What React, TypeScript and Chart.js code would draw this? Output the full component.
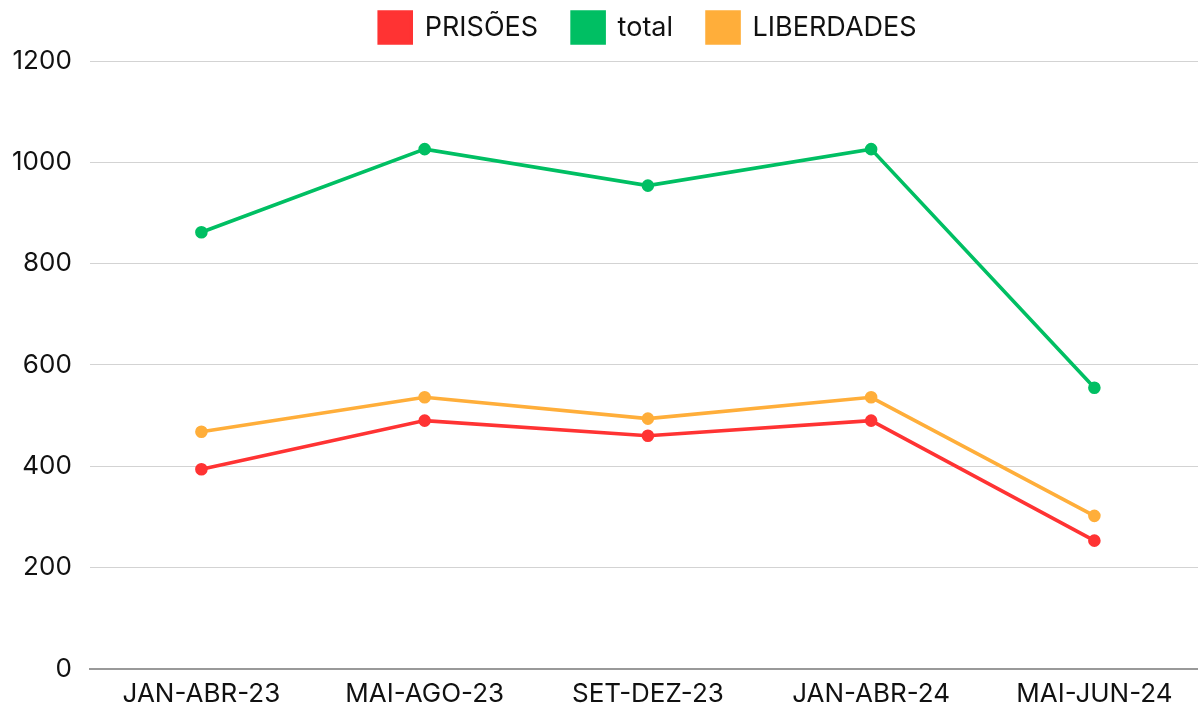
import React, { useEffect, useRef } from "react";
import { Chart, registerables } from "chart.js";

Chart.register(...registerables);

const categories = ["JAN-ABR-23", "MAI-AGO-23", "SET-DEZ-23", "JAN-ABR-24", "MAI-JUN-24"];
const prisoes = [394, 490, 460, 490, 253];
const total = [862, 1026, 954, 1026, 555];
const liberdades = [468, 536, 494, 536, 302];

const legendSpacing = {
  id: "legendSpacing",
  beforeInit(chart: any) {
    const legend = chart.legend;
    if (!legend) return;
    const origFit = legend.fit;
    legend.fit = function () {
      origFit.call(this);
      this.height += 8;
    };
  },
};

export default function App() {
  const ref = useRef<HTMLCanvasElement>(null);
  useEffect(() => {
    const font = "Inter, 'Noto Sans', sans-serif";
    const chart = new Chart(ref.current!, {
      type: "line",
      data: {
        labels: categories,
        datasets: [
          { label: "PRISÕES", data: prisoes, borderColor: "#FF3333", backgroundColor: "#FF3333" },
          { label: "total", data: total, borderColor: "#00BF63", backgroundColor: "#00BF63" },
          { label: "LIBERDADES", data: liberdades, borderColor: "#FFAE3A", backgroundColor: "#FFAE3A" },
        ].map((d) => ({ ...d, borderWidth: 3.6, pointRadius: 4.5, pointHoverRadius: 4.5, tension: 0 })),
      },
      options: {
        animation: false,
        responsive: false,
        layout: { autoPadding: false, padding: 0 },
        plugins: {
          legend: {
            position: "top",
            fullSize: false,
            labels: {
              font: { family: font, size: 27 },
              color: "#111",
              boxWidth: 32,
              boxHeight: 31,
              padding: 34,
            },
          },
          tooltip: { enabled: false },
        },
        scales: {
          x: {
            offset: true,
            grid: { display: false },
            border: { display: true, color: "#999", width: 2 },
            ticks: { font: { family: font, size: 26 }, color: "#111", maxRotation: 0, padding: 2 },
          },
          y: {
            min: 0,
            max: 1200,
            ticks: {
              stepSize: 200,
              font: { family: font, size: 26 },
              color: "#111",
              padding: 18,
              callback: (v: any) => String(v),
            },
            grid: { color: "#d3d3d3", drawTicks: false, lineWidth: 1 },
            border: { display: false },
          },
        },
      },
      plugins: [legendSpacing],
    });
    return () => chart.destroy();
  }, []);
  return (
    <div style={{ position: "absolute", left: 0, top: 0, width: 1198, height: 709, overflow: "hidden" }}>
      <canvas ref={ref} width={1212} height={734} style={{ position: "absolute", left: -6, top: -22 }} />
    </div>
  );
}
